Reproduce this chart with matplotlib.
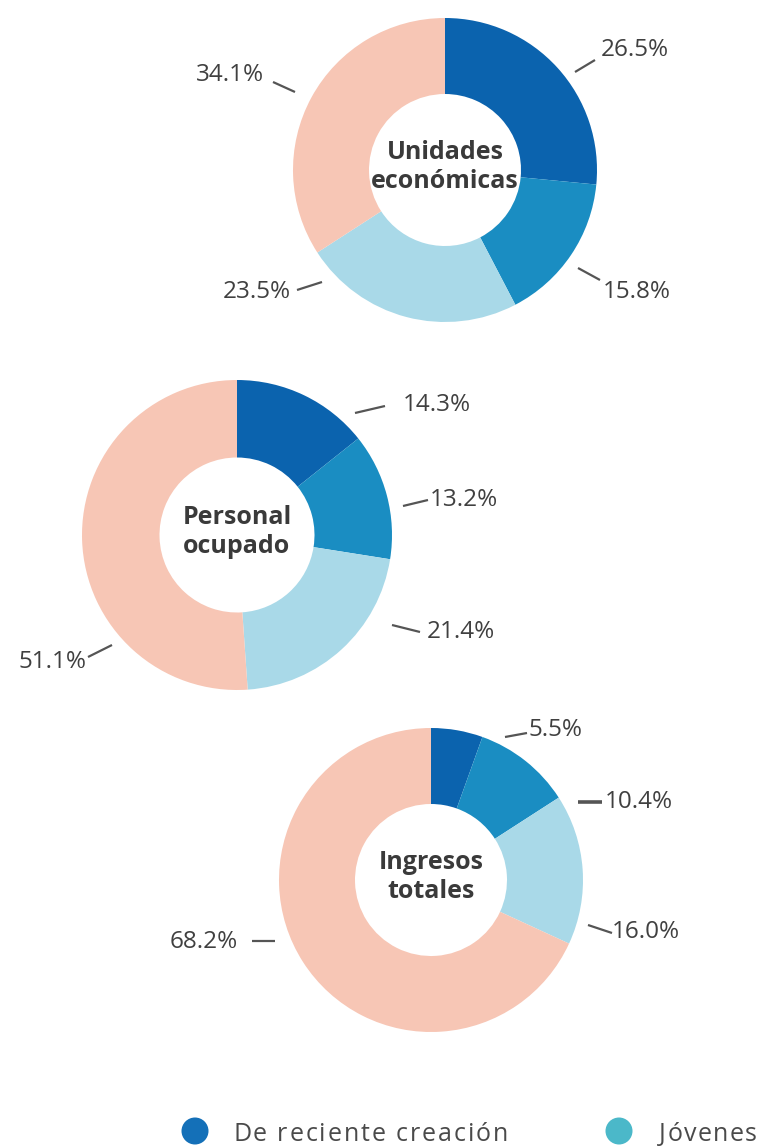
import matplotlib
matplotlib.use("Agg")
import matplotlib.pyplot as plt
from matplotlib.font_manager import FontProperties
from matplotlib.patches import Circle

# data
segmentos = ["De reciente creación", "Medianas", "Jóvenes", "Maduras"]
unidades = [26.5, 15.8, 23.5, 34.1]
personal = [14.3, 13.2, 21.4, 51.1]
ingresos = [5.5, 10.4, 16.0, 68.2]
titulos = ["Unidades\neconómicas", "Personal\nocupado", "Ingresos\ntotales"]

colores = ["#0b63ae", "#1a8dc2", "#a9d9e8", "#f7c6b5"]
txt_color = "#404040"
W, H = 762, 1146

plt.rcParams['font.family'] = ['Open Sans', 'DejaVu Sans']

fig = plt.figure(figsize=(W / 100, H / 100), dpi=100)
ax = fig.add_axes([0, 0, 1, 1])

def yy(ypix):
    # pixel row (from top) -> data y
    return H - ypix

# donut centres / radius in pixels
donas = [
    (unidades, (445, 170), 152,
     # label: (text x, text y, ha), leader line (x0, y0, x1, y1), line width
     [((601, 50, "left"), (575, 72, 595, 60), 1.6),
      ((603, 292, "left"), (578, 268, 600, 280), 1.6),
      ((291, 292, "right"), (297, 290, 322, 282), 1.6),
      ((264, 75, "right"), (273, 82, 295, 92), 1.6)]),
    (personal, (237, 535), 155,
     [((403, 405, "left"), (355, 413, 385, 406), 1.6),
      ((430, 500, "left"), (403, 506, 428, 500), 1.6),
      ((427, 632, "left"), (392, 625, 420, 632), 1.6),
      ((86, 662, "right"), (88, 657, 112, 645), 1.6)]),
    (ingresos, (431, 880), 152,
     [((529, 730, "left"), (505, 737, 527, 733), 1.6),
      ((605, 802, "left"), (578, 802, 602, 802), 2.6),
      ((612, 932, "left"), (588, 925, 612, 933), 1.6),
      ((238, 942, "right"), (252, 941, 275, 941), 1.6)]),
]

for (vals, (cx, cy), r, labs), titulo in zip(donas, titulos):
    ax.pie(vals, colors=colores, startangle=90, counterclock=False,
           radius=r, center=(cx, yy(cy)),
           wedgeprops=dict(width=r * 0.5, linewidth=0))
    ax.text(cx, yy(cy - 3), titulo, ha="center", va="center", fontsize=18,
            fontweight="bold", color="#3a3a3a", linespacing=1.2)
    for v, ((tx, ty, ha), (x0, y0, x1, y1), lw) in zip(vals, labs):
        ax.plot([x0, x1], [yy(y0), yy(y1)], color="#555555", lw=lw,
                solid_capstyle="butt")
        ax.text(tx, yy(ty), f"{v:.1f}%", ha=ha, va="center", fontsize=17.5,
                color=txt_color)

# legend (letter spaced text, partly cut by the bottom edge)
renderer = fig.canvas.get_renderer()
fp = FontProperties(family=['Open Sans', 'DejaVu Sans'], size=18)

def ancho(s):
    w, h, d = renderer.get_text_width_height_descent(s + "x", fp, ismath=False)
    w0, _, _ = renderer.get_text_width_height_descent("x", fp, ismath=False)
    return w - w0

def texto_espaciado(x0, ybase, s, ancho_total, color):
    natural = ancho(s)
    esp = max(0, (ancho_total - natural) / (len(s) - 1))
    for i, ch in enumerate(s):
        ax.text(x0 + ancho(s[:i]) + i * esp, ybase, ch, fontproperties=fp,
                color=color, ha="left", va="baseline")

leyenda = [(segmentos[0], "#1470b8", 195, 233, 275),
           (segmentos[2], "#4bb8c9", 619, 659, 98)]
for nombre, col, xc, xt, wt in leyenda:
    ax.add_patch(Circle((xc, yy(1131)), 13.5, color=col, lw=0))
    texto_espaciado(xt, yy(1141), nombre, wt, "#4a4a4a")

ax.set_xlim(0, W)
ax.set_ylim(0, H)
ax.set_aspect("auto")
ax.axis("off")

fig.savefig("out.png", dpi=100, facecolor="white")
